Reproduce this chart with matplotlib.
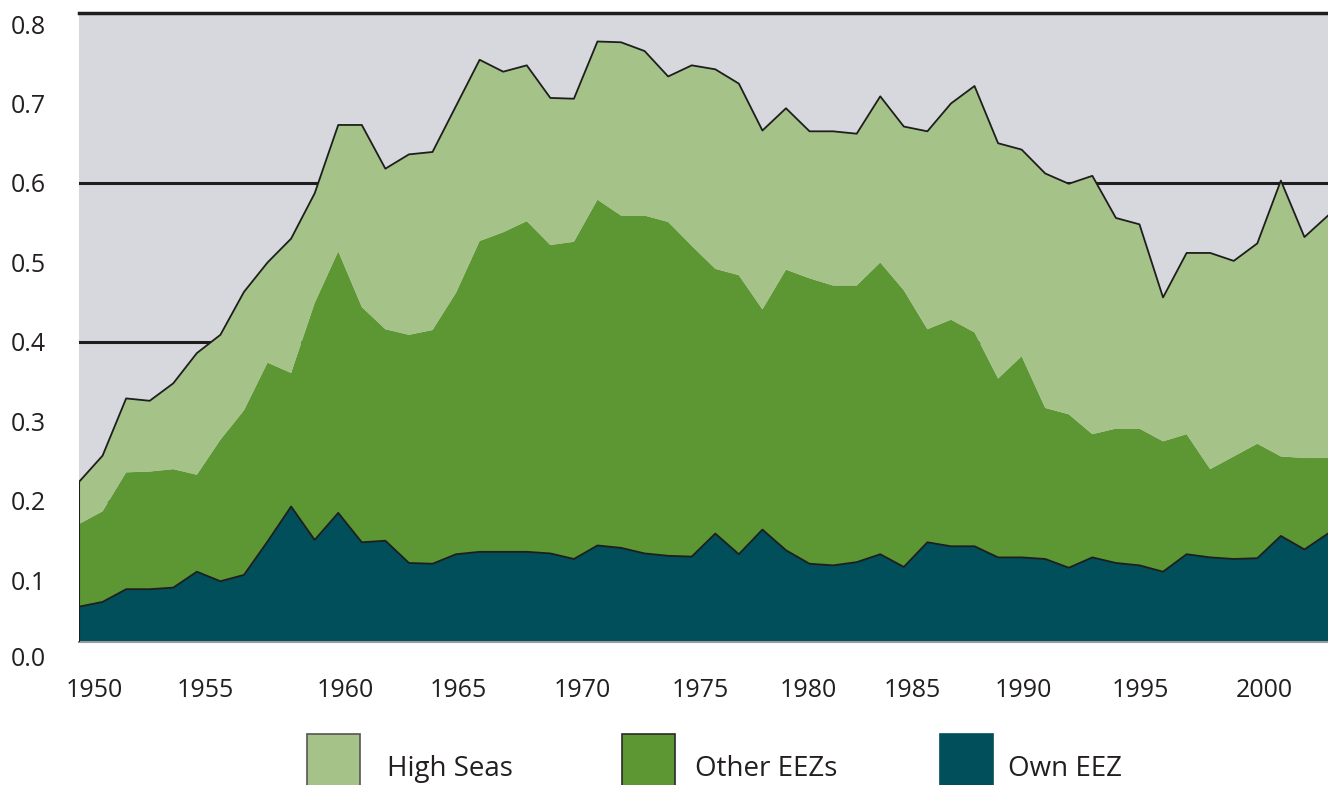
import numpy as np
import matplotlib.pyplot as plt
from matplotlib.patches import Rectangle

# data, one value per year 1950-2003
years = np.arange(1950, 2004)

own_eez = [0.067, 0.073, 0.089, 0.089, 0.091, 0.111, 0.099, 0.107, 0.149, 0.193,
           0.151, 0.185, 0.148, 0.150, 0.122, 0.121, 0.133, 0.136, 0.136, 0.136,
           0.134, 0.127, 0.144, 0.141, 0.134, 0.131, 0.130, 0.159, 0.133, 0.164,
           0.138, 0.121, 0.119, 0.123, 0.133, 0.117, 0.148, 0.143, 0.143, 0.129,
           0.129, 0.127, 0.116, 0.129, 0.122, 0.119, 0.111, 0.133, 0.129, 0.127,
           0.128, 0.156, 0.139, 0.159]

other_eezs = [0.104, 0.114, 0.147, 0.148, 0.149, 0.122, 0.178, 0.207, 0.225, 0.168,
              0.298, 0.329, 0.296, 0.266, 0.287, 0.294, 0.329, 0.391, 0.402, 0.416,
              0.388, 0.399, 0.435, 0.418, 0.425, 0.420, 0.391, 0.333, 0.351, 0.277,
              0.353, 0.359, 0.352, 0.348, 0.367, 0.348, 0.268, 0.285, 0.269, 0.225,
              0.253, 0.190, 0.193, 0.155, 0.169, 0.172, 0.164, 0.151, 0.111, 0.129,
              0.144, 0.100, 0.115, 0.095]

high_seas = [0.053, 0.070, 0.093, 0.089, 0.108, 0.153, 0.132, 0.149, 0.126, 0.169,
             0.138, 0.159, 0.229, 0.202, 0.227, 0.224, 0.235, 0.228, 0.202, 0.196,
             0.185, 0.180, 0.199, 0.218, 0.207, 0.183, 0.227, 0.251, 0.241, 0.225,
             0.203, 0.185, 0.194, 0.191, 0.209, 0.206, 0.249, 0.272, 0.310, 0.296,
             0.260, 0.295, 0.290, 0.325, 0.265, 0.257, 0.181, 0.228, 0.272, 0.246,
             0.252, 0.347, 0.278, 0.305]

series_names = ["High Seas", "Other EEZs", "Own EEZ"]
year_labels = ["1950", "1955", "1960", "1965", "1970", "1975",
               "1980", "1985", "1990", "1995", "2000"]
# where the year labels sit in the original (not exactly on the years)
year_label_pos = [1950.64, 1955.35, 1961.29, 1966.08, 1971.34, 1976.35,
                  1980.93, 1985.35, 1990.06, 1995.02, 2000.28]

c_high = "#a5c389"
c_other = "#5c9733"
c_own = "#004f5a"
c_bg = "#d7d8dd"
c_line = "#1e1e1e"
c_text = "#231f20"

plt.rcParams['font.family'] = ['Open Sans', 'DejaVu Sans']

fig = plt.figure(figsize=(13.28, 7.85), dpi=100)
ax = fig.add_axes([0.0595, 0.1822, 0.9405, 0.8012])
ax.set_facecolor(c_bg)

# grid lines behind the areas
for g in (0.2, 0.4, 0.6):
    ax.axhline(g, color=c_line, lw=2.2, zorder=1)

ax.stackplot(years, own_eez, other_eezs, high_seas,
             colors=[c_own, c_other, c_high], linewidth=0, zorder=2)

own = np.array(own_eez)
total = own + np.array(other_eezs) + np.array(high_seas)
ax.plot(years, total, color=c_line, lw=1.3, zorder=3)
ax.plot(years, own, color=c_line, lw=1.3, zorder=3)
ax.plot([years[0], years[0]], [0, total[0]], color=c_line, lw=1.5, zorder=3)

ax.set_xlim(1950, 2003)
ax.set_ylim(0.0226, 0.8138)

ax.spines['left'].set_visible(False)
ax.spines['right'].set_visible(False)
ax.spines['top'].set_color(c_line)
ax.spines['top'].set_linewidth(2.5)
ax.spines['bottom'].set_color('#9a9a9a')
ax.spines['bottom'].set_linewidth(1.5)

yt = np.arange(1, 9) / 10
ax.set_yticks(yt)
ax.set_yticklabels([f"{v:.1f}" for v in yt])
ax.text(-0.0264, 0.0, "0.0", transform=ax.get_yaxis_transform(),
        ha='right', va='center', fontsize=18, color=c_text, clip_on=False)
ax.set_xticks(year_label_pos)
ax.set_xticklabels(year_labels)
ax.tick_params(axis='y', length=0, pad=24, labelsize=18, labelcolor=c_text)
ax.tick_params(axis='x', length=0, pad=26, labelsize=18, labelcolor=c_text)

# legend drawn by hand below the plot
leg_colors = [c_high, c_other, c_own]
leg_edges = ['#555555', '#2a2a2a', c_own]
patch_x = [307, 622, 940]
text_x = [387, 695, 1008]
for name, fc, ec, px, tx in zip(series_names, leg_colors, leg_edges, patch_x, text_x):
    fig.add_artist(Rectangle((px / 1328, -0.02), 53 / 1328, (785 - 734) / 785 + 0.02,
                             transform=fig.transFigure, facecolor=fc,
                             edgecolor=ec, lw=1.2))
    fig.text(tx / 1328, (785 - 776) / 785, name, fontsize=20,
             color=c_text, va='baseline', ha='left')

fig.savefig("out.png", dpi=100)
